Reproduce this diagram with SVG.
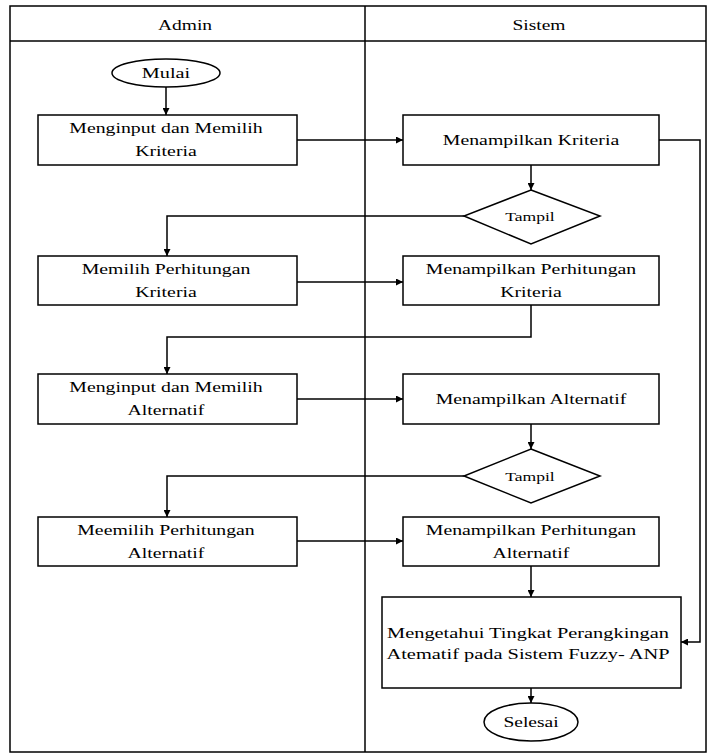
<svg xmlns="http://www.w3.org/2000/svg" width="709" height="755" viewBox="0 0 709 755">
  <defs>
    <marker id="arrow" viewBox="0 0 8 8" refX="8" refY="4" markerWidth="7" markerHeight="7" markerUnits="userSpaceOnUse" orient="auto">
      <path d="M0,0 L8,4 L0,8 Z" fill="#000"/>
    </marker>
    <style>
      .frame { fill: #fff; stroke: #000; stroke-width: 1.5; }
      .shape { fill: #fff; stroke: #000; stroke-width: 1.5; }
      .conn { fill: none; stroke: #000; stroke-width: 1.5; marker-end: url(#arrow); }
      text { font-family: "Liberation Serif", "Times New Roman", serif; font-size: 15px; fill: #000; text-anchor: middle; }
      .small { font-size: 13.5px; }
    </style>
  </defs>

  <!-- swimlane frame -->
  <g id="lanes">
    <rect class="frame" x="10" y="6" width="696" height="746"/>
    <line x1="10" y1="41" x2="706" y2="41" stroke="#000" stroke-width="1.5"/>
    <line x1="365" y1="6" x2="365" y2="752" stroke="#000" stroke-width="1.5"/>
    <text transform="translate(185,30) scale(1.3,1)">Admin</text>
    <text transform="translate(539,30) scale(1.3,1)">Sistem</text>
  </g>

  <!-- connectors -->
  <g id="connectors">
    <path class="conn" d="M166,87 L166,115"/>
    <path class="conn" d="M297,140 L403,140"/>
    <path class="conn" d="M659,140 L700,140 L700,642 L681,642"/>
    <path class="conn" d="M531,165 L531,190"/>
    <path class="conn" d="M464,216 L167,216 L167,256"/>
    <path class="conn" d="M297,282 L403,282"/>
    <path class="conn" d="M531,305 L531,337 L167,337 L167,374"/>
    <path class="conn" d="M297,399 L403,399"/>
    <path class="conn" d="M531,424 L531,449"/>
    <path class="conn" d="M464,476 L167,476 L167,517"/>
    <path class="conn" d="M297,541 L403,541"/>
    <path class="conn" d="M531,566 L531,597"/>
    <path class="conn" d="M531,688 L531,703"/>
  </g>

  <g id="mulai">
    <ellipse class="shape" cx="166" cy="73" rx="54" ry="14"/>
    <text transform="translate(166,78) scale(1.35,1)">Mulai</text>
  </g>

  <g id="menginput-kriteria">
    <rect class="shape" x="38" y="115" width="259" height="50"/>
    <text transform="translate(166,133) scale(1.32,1)">Menginput dan Memilih</text>
    <text transform="translate(166,156) scale(1.32,1)">Kriteria</text>
  </g>

  <g id="menampilkan-kriteria">
    <rect class="shape" x="403" y="115" width="256" height="50"/>
    <text transform="translate(531,145) scale(1.32,1)">Menampilkan Kriteria</text>
  </g>

  <g id="tampil-1">
    <polygon class="shape" points="531,190 600,216 531,244 464,216"/>
    <text class="small" transform="translate(530,221) scale(1.3,1)">Tampil</text>
  </g>

  <g id="memilih-perhitungan-kriteria">
    <rect class="shape" x="38" y="256" width="259" height="49"/>
    <text transform="translate(166,274) scale(1.32,1)">Memilih Perhitungan</text>
    <text transform="translate(166,297) scale(1.32,1)">Kriteria</text>
  </g>

  <g id="menampilkan-perhitungan-kriteria">
    <rect class="shape" x="403" y="256" width="256" height="49"/>
    <text transform="translate(531,274) scale(1.32,1)">Menampilkan Perhitungan</text>
    <text transform="translate(531,297) scale(1.32,1)">Kriteria</text>
  </g>

  <g id="menginput-alternatif">
    <rect class="shape" x="38" y="374" width="259" height="50"/>
    <text transform="translate(166,392) scale(1.32,1)">Menginput dan Memilih</text>
    <text transform="translate(166,415) scale(1.32,1)">Alternatif</text>
  </g>

  <g id="menampilkan-alternatif">
    <rect class="shape" x="403" y="374" width="256" height="50"/>
    <text transform="translate(531,404) scale(1.32,1)">Menampilkan Alternatif</text>
  </g>

  <g id="tampil-2">
    <polygon class="shape" points="531,449 600,476 531,503 464,476"/>
    <text class="small" transform="translate(530,481) scale(1.3,1)">Tampil</text>
  </g>

  <g id="memilih-perhitungan-alternatif">
    <rect class="shape" x="38" y="517" width="259" height="49"/>
    <text transform="translate(166,535) scale(1.32,1)">Meemilih Perhitungan</text>
    <text transform="translate(166,558) scale(1.32,1)">Alternatif</text>
  </g>

  <g id="menampilkan-perhitungan-alternatif">
    <rect class="shape" x="403" y="517" width="256" height="49"/>
    <text transform="translate(531,535) scale(1.32,1)">Menampilkan Perhitungan</text>
    <text transform="translate(531,558) scale(1.32,1)">Alternatif</text>
  </g>

  <g id="mengetahui-perangkingan">
    <rect class="shape" x="382" y="597" width="299" height="91"/>
    <text transform="translate(528,638) scale(1.36,1)">Mengetahui Tingkat Perangkingan</text>
    <text transform="translate(528,659) scale(1.36,1)">Atematif pada Sistem Fuzzy- ANP</text>
  </g>

  <g id="selesai">
    <ellipse class="shape" cx="531" cy="722" rx="47" ry="19"/>
    <text transform="translate(531,727) scale(1.3,1)">Selesai</text>
  </g>
</svg>
